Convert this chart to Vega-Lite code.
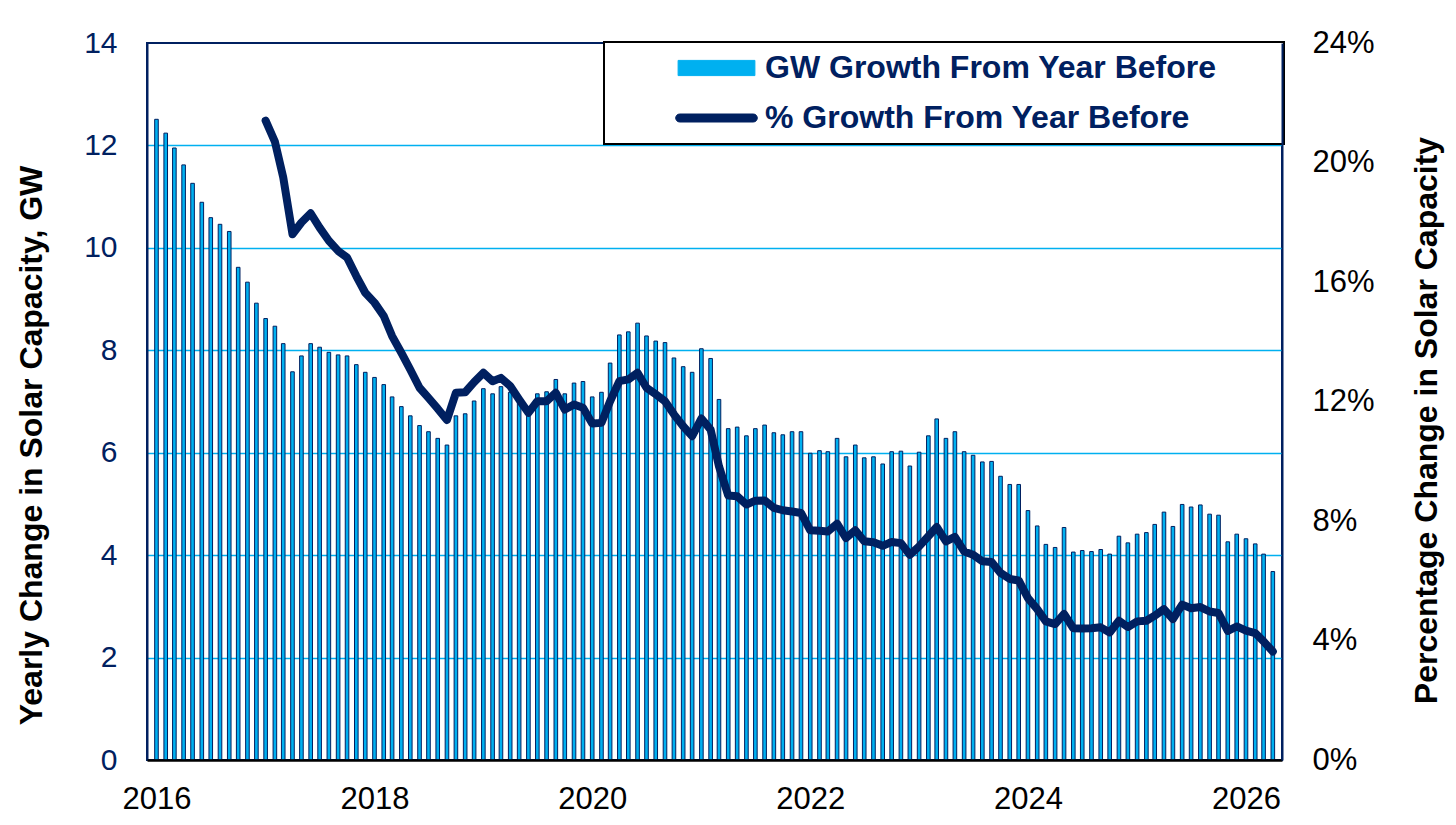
{
  "$schema": "https://vega.github.io/schema/vega-lite/v6.json",
  "width": 1135,
  "height": 717,
  "autosize": {"type": "none"},
  "padding": {"left": 147, "top": 43, "right": 174, "bottom": 65},
  "background": "white",
  "config": {
    "font": "Liberation Sans",
    "view": {"stroke": "#002060", "strokeWidth": 2}
  },
  "data": {
    "values": [
      {"d": "2016-01-01", "gw": 12.51},
      {"d": "2016-02-01", "gw": 12.24},
      {"d": "2016-03-01", "gw": 11.95},
      {"d": "2016-04-01", "gw": 11.62},
      {"d": "2016-05-01", "gw": 11.26},
      {"d": "2016-06-01", "gw": 10.89},
      {"d": "2016-07-01", "gw": 10.59},
      {"d": "2016-08-01", "gw": 10.46},
      {"d": "2016-09-01", "gw": 10.32},
      {"d": "2016-10-01", "gw": 9.62},
      {"d": "2016-11-01", "gw": 9.33},
      {"d": "2016-12-01", "gw": 8.92},
      {"d": "2017-01-01", "gw": 8.62, "pct": 21.40},
      {"d": "2017-02-01", "gw": 8.47, "pct": 20.70},
      {"d": "2017-03-01", "gw": 8.13, "pct": 19.50},
      {"d": "2017-04-01", "gw": 7.58, "pct": 17.60},
      {"d": "2017-05-01", "gw": 7.89, "pct": 17.99},
      {"d": "2017-06-01", "gw": 8.13, "pct": 18.30},
      {"d": "2017-07-01", "gw": 8.06, "pct": 17.82},
      {"d": "2017-08-01", "gw": 7.96, "pct": 17.38},
      {"d": "2017-09-01", "gw": 7.91, "pct": 17.04},
      {"d": "2017-10-01", "gw": 7.89, "pct": 16.82},
      {"d": "2017-11-01", "gw": 7.72, "pct": 16.20},
      {"d": "2017-12-01", "gw": 7.57, "pct": 15.64},
      {"d": "2018-01-01", "gw": 7.47, "pct": 15.31},
      {"d": "2018-02-01", "gw": 7.33, "pct": 14.86},
      {"d": "2018-03-01", "gw": 7.09, "pct": 14.19},
      {"d": "2018-04-01", "gw": 6.90, "pct": 13.63},
      {"d": "2018-05-01", "gw": 6.72, "pct": 13.07},
      {"d": "2018-06-01", "gw": 6.53, "pct": 12.46},
      {"d": "2018-07-01", "gw": 6.41, "pct": 12.12},
      {"d": "2018-08-01", "gw": 6.28, "pct": 11.76},
      {"d": "2018-09-01", "gw": 6.15, "pct": 11.38},
      {"d": "2018-10-01", "gw": 6.72, "pct": 12.29},
      {"d": "2018-11-01", "gw": 6.76, "pct": 12.31},
      {"d": "2018-12-01", "gw": 7.01, "pct": 12.65},
      {"d": "2019-01-01", "gw": 7.25, "pct": 12.96},
      {"d": "2019-02-01", "gw": 7.15, "pct": 12.68},
      {"d": "2019-03-01", "gw": 7.29, "pct": 12.79},
      {"d": "2019-04-01", "gw": 7.18, "pct": 12.52},
      {"d": "2019-05-01", "gw": 7.05, "pct": 12.07},
      {"d": "2019-06-01", "gw": 6.85, "pct": 11.62},
      {"d": "2019-07-01", "gw": 7.15, "pct": 12.01},
      {"d": "2019-08-01", "gw": 7.19, "pct": 12.01},
      {"d": "2019-09-01", "gw": 7.43, "pct": 12.29},
      {"d": "2019-10-01", "gw": 7.15, "pct": 11.73},
      {"d": "2019-11-01", "gw": 7.36, "pct": 11.90},
      {"d": "2019-12-01", "gw": 7.39, "pct": 11.79},
      {"d": "2020-01-01", "gw": 7.09, "pct": 11.26},
      {"d": "2020-02-01", "gw": 7.18, "pct": 11.29},
      {"d": "2020-03-01", "gw": 7.75, "pct": 12.01},
      {"d": "2020-04-01", "gw": 8.30, "pct": 12.68},
      {"d": "2020-05-01", "gw": 8.36, "pct": 12.74},
      {"d": "2020-06-01", "gw": 8.53, "pct": 12.96},
      {"d": "2020-07-01", "gw": 8.28, "pct": 12.46},
      {"d": "2020-08-01", "gw": 8.18, "pct": 12.24},
      {"d": "2020-09-01", "gw": 8.15, "pct": 12.01},
      {"d": "2020-10-01", "gw": 7.85, "pct": 11.57},
      {"d": "2020-11-01", "gw": 7.68, "pct": 11.17},
      {"d": "2020-12-01", "gw": 7.57, "pct": 10.84},
      {"d": "2021-01-01", "gw": 8.03, "pct": 11.43},
      {"d": "2021-02-01", "gw": 7.84, "pct": 11.06},
      {"d": "2021-03-01", "gw": 7.04, "pct": 9.83},
      {"d": "2021-04-01", "gw": 6.47, "pct": 8.85},
      {"d": "2021-05-01", "gw": 6.50, "pct": 8.83},
      {"d": "2021-06-01", "gw": 6.33, "pct": 8.55},
      {"d": "2021-07-01", "gw": 6.47, "pct": 8.68},
      {"d": "2021-08-01", "gw": 6.54, "pct": 8.69},
      {"d": "2021-09-01", "gw": 6.39, "pct": 8.44},
      {"d": "2021-10-01", "gw": 6.35, "pct": 8.36},
      {"d": "2021-11-01", "gw": 6.41, "pct": 8.32},
      {"d": "2021-12-01", "gw": 6.41, "pct": 8.27},
      {"d": "2022-01-01", "gw": 5.99, "pct": 7.69},
      {"d": "2022-02-01", "gw": 6.04, "pct": 7.67},
      {"d": "2022-03-01", "gw": 6.02, "pct": 7.65},
      {"d": "2022-04-01", "gw": 6.28, "pct": 7.91},
      {"d": "2022-05-01", "gw": 5.92, "pct": 7.43},
      {"d": "2022-06-01", "gw": 6.15, "pct": 7.69},
      {"d": "2022-07-01", "gw": 5.90, "pct": 7.32},
      {"d": "2022-08-01", "gw": 5.92, "pct": 7.29},
      {"d": "2022-09-01", "gw": 5.78, "pct": 7.17},
      {"d": "2022-10-01", "gw": 6.02, "pct": 7.30},
      {"d": "2022-11-01", "gw": 6.03, "pct": 7.26},
      {"d": "2022-12-01", "gw": 5.74, "pct": 6.87},
      {"d": "2023-01-01", "gw": 6.01, "pct": 7.15},
      {"d": "2023-02-01", "gw": 6.33, "pct": 7.49},
      {"d": "2023-03-01", "gw": 6.66, "pct": 7.80},
      {"d": "2023-04-01", "gw": 6.28, "pct": 7.32},
      {"d": "2023-05-01", "gw": 6.41, "pct": 7.47},
      {"d": "2023-06-01", "gw": 6.02, "pct": 6.98},
      {"d": "2023-07-01", "gw": 5.95, "pct": 6.87},
      {"d": "2023-08-01", "gw": 5.82, "pct": 6.65},
      {"d": "2023-09-01", "gw": 5.83, "pct": 6.63},
      {"d": "2023-10-01", "gw": 5.54, "pct": 6.26},
      {"d": "2023-11-01", "gw": 5.38, "pct": 6.06},
      {"d": "2023-12-01", "gw": 5.38, "pct": 6.01},
      {"d": "2024-01-01", "gw": 4.87, "pct": 5.42},
      {"d": "2024-02-01", "gw": 4.57, "pct": 5.05},
      {"d": "2024-03-01", "gw": 4.21, "pct": 4.64},
      {"d": "2024-04-01", "gw": 4.15, "pct": 4.55},
      {"d": "2024-05-01", "gw": 4.54, "pct": 4.89},
      {"d": "2024-06-01", "gw": 4.06, "pct": 4.41},
      {"d": "2024-07-01", "gw": 4.09, "pct": 4.40},
      {"d": "2024-08-01", "gw": 4.07, "pct": 4.41},
      {"d": "2024-09-01", "gw": 4.11, "pct": 4.44},
      {"d": "2024-10-01", "gw": 4.02, "pct": 4.27},
      {"d": "2024-11-01", "gw": 4.37, "pct": 4.66},
      {"d": "2024-12-01", "gw": 4.24, "pct": 4.45},
      {"d": "2025-01-01", "gw": 4.41, "pct": 4.64},
      {"d": "2025-02-01", "gw": 4.44, "pct": 4.66},
      {"d": "2025-03-01", "gw": 4.60, "pct": 4.83},
      {"d": "2025-04-01", "gw": 4.84, "pct": 5.05},
      {"d": "2025-05-01", "gw": 4.56, "pct": 4.72},
      {"d": "2025-06-01", "gw": 4.99, "pct": 5.20},
      {"d": "2025-07-01", "gw": 4.94, "pct": 5.08},
      {"d": "2025-08-01", "gw": 4.98, "pct": 5.12},
      {"d": "2025-09-01", "gw": 4.80, "pct": 4.97},
      {"d": "2025-10-01", "gw": 4.78, "pct": 4.92},
      {"d": "2025-11-01", "gw": 4.26, "pct": 4.32},
      {"d": "2025-12-01", "gw": 4.41, "pct": 4.47},
      {"d": "2026-01-01", "gw": 4.32, "pct": 4.33},
      {"d": "2026-02-01", "gw": 4.22, "pct": 4.25},
      {"d": "2026-03-01", "gw": 4.02, "pct": 3.97},
      {"d": "2026-04-01", "gw": 3.68, "pct": 3.63}
    ]
  },
  "layer": [
    {
      "mark": {"type": "bar", "size": 3.6, "stroke": "#002060", "strokeWidth": 1},
      "encoding": {
        "x": {
          "field": "d",
          "type": "temporal",
          "scale": {
            "type": "utc",
            "domain": [
              {"year": 2015, "month": 12, "date": 17, "utc": true},
              {"year": 2026, "month": 4, "date": 15, "utc": true}
            ]
          },
          "axis": {
            "title": null,
            "values": [
              {"year": 2016, "month": 1, "date": 1, "utc": true},
              {"year": 2018, "month": 1, "date": 1, "utc": true},
              {"year": 2020, "month": 1, "date": 1, "utc": true},
              {"year": 2022, "month": 1, "date": 1, "utc": true},
              {"year": 2024, "month": 1, "date": 1, "utc": true},
              {"year": 2026, "month": 1, "date": 1, "utc": true}
            ],
            "format": "%Y",
            "formatType": "utc",
            "grid": false,
            "ticks": false,
            "tickSize": 0,
            "labelFlush": false,
            "labelOverlap": false,
            "labelFont": "Liberation Sans",
            "labelFontSize": 31,
            "labelColor": "black",
            "labelPadding": 24,
            "domainColor": "black",
            "domainWidth": 2.5,
            "zindex": 1
          }
        },
        "y": {
          "field": "gw",
          "type": "quantitative",
          "scale": {"domain": [0, 14], "nice": false},
          "axis": {
            "orient": "left",
            "values": [0, 2, 4, 6, 8, 10, 12, 14],
            "title": "Yearly Change in Solar Capacity, GW",
            "titleFont": "Liberation Sans",
            "titleFontSize": 32,
            "titleFontWeight": "bold",
            "titleColor": "black",
            "titlePadding": 35,
            "titleY": 402,
            "labelFont": "Liberation Sans",
            "labelFontSize": 30,
            "labelColor": "#002060",
            "labelPadding": 30,
            "ticks": false,
            "tickSize": 0,
            "domainColor": "#002060",
            "domainWidth": 2,
            "grid": true,
            "gridColor": {
              "condition": {"test": "datum.value === 0 || datum.value === 14", "value": "transparent"},
              "value": "#00B0F0"
            },
            "gridWidth": 1.5
          }
        },
        "color": {
          "datum": "GW Growth From Year Before",
          "type": "nominal",
          "scale": {
            "domain": ["GW Growth From Year Before", "% Growth From Year Before"],
            "range": ["#00B0F0", "#002060"]
          },
          "legend": {
            "orient": "none",
            "legendX": 457,
            "legendY": -1,
            "title": null,
            "padding": 10,
            "fillColor": "white",
            "strokeColor": "black",
            "labelFont": "Liberation Sans",
            "labelFontSize": 32,
            "labelFontWeight": "bold",
            "labelColor": "#002060",
            "labelLimit": 1000,
            "symbolSize": 256,
            "symbolStrokeWidth": 1,
            "symbolStrokeColor": "#002060",
            "symbolOpacity": 1,
            "symbolOffset": 86.5,
            "labelOffset": 32.5,
            "rowPadding": 18,
            "encode": {
              "symbols": {
                "update": {
                  "shape": {"signal": "datum.value === 'GW Growth From Year Before' ? 'M-12.8,0M69.4,0M-4.8,-0.95H4.8V0.95H-4.8Z' : 'M-12.8,0M69.4,0M-4.6,-0.5H4.6A0.5,0.5,0,0,1,4.6,0.5H-4.6A0.5,0.5,0,0,1,-4.6,-0.5Z'"},
                  "fill": {"signal": "datum.value === 'GW Growth From Year Before' ? '#00B0F0' : '#002060'"},
                  "stroke": {"value": "#002060"},
                  "strokeWidth": {"value": 1},
                  "opacity": {"value": 1}
                }
              },
              "legend": {
                "update": {
                  "strokeWidth": {"value": 2}
                }
              }
            }
          }
        }
      }
    },
    {
      "transform": [{"filter": "isValid(datum.pct)"}],
      "mark": {"type": "line", "strokeWidth": 8, "strokeCap": "round", "strokeJoin": "round"},
      "encoding": {
        "x": {"field": "d", "type": "temporal"},
        "y": {
          "field": "pct",
          "type": "quantitative",
          "scale": {"domain": [0, 24], "nice": false},
          "axis": {
            "orient": "right",
            "values": [0, 4, 8, 12, 16, 20, 24],
            "labelExpr": "datum.value + '%'",
            "title": "Percentage Change in Solar Capacity",
            "titleFont": "Liberation Sans",
            "titleFontSize": 32,
            "titleFontWeight": "bold",
            "titleColor": "black",
            "titleAngle": 270,
            "titleBaseline": "top",
            "titlePadding": 37,
            "titleY": 377,
            "labelFont": "Liberation Sans",
            "labelFontSize": 31,
            "labelColor": "black",
            "labelPadding": 30,
            "ticks": false,
            "tickSize": 0,
            "domainColor": "#002060",
            "domainWidth": 2,
            "grid": false,
            "zindex": 1
          }
        },
        "color": {"datum": "% Growth From Year Before", "type": "nominal", "legend": null}
      }
    }
  ],
  "resolve": {"scale": {"y": "independent"}}
}
